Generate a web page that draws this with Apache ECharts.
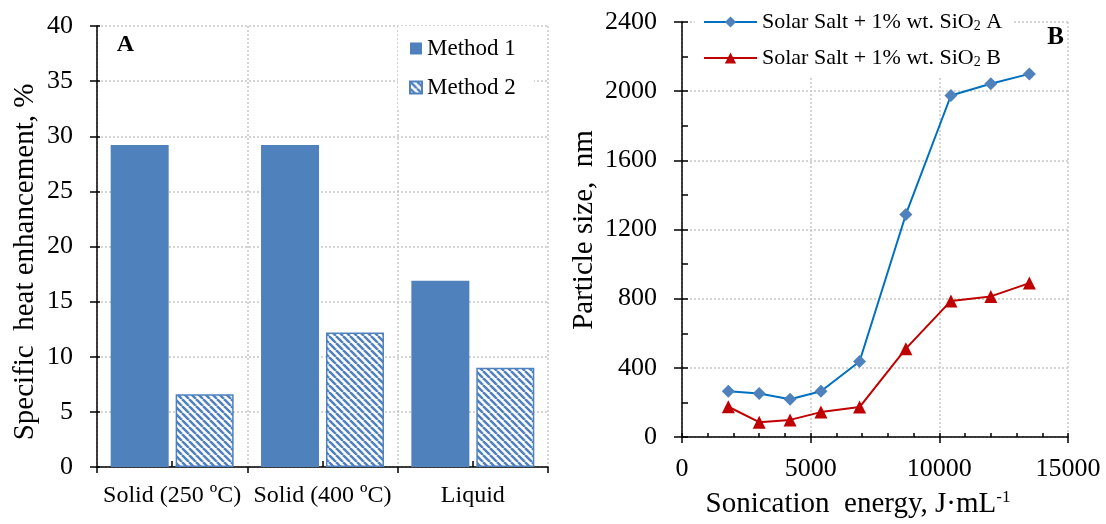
<!DOCTYPE html>
<html>
<head>
<meta charset="utf-8">
<script src="https://cdn.jsdelivr.net/npm/echarts@6/dist/echarts.min.js"></script>
<style>
  html, body { margin: 0; padding: 0; background: #fff; }
  #chart { width: 1106px; height: 524px; }
</style>
</head>
<body>
<div id="chart"></div>
<script>
// panel A
var categories = ['Solid (250 ºC)', 'Solid (400 ºC)', 'Liquid']
var method1 = [29.2, 29.2, 16.9]
var method2 = [6.6, 12.2, 9.0]
// panel B
var energy = [1800, 3000, 4200, 5400, 6900, 8700, 10450, 12000, 13500]
var sizeA = [265, 251, 218, 265, 437, 1287, 1975, 2043, 2100]
var sizeB = [175, 86, 99, 144, 173, 511, 787, 813, 890]
var nameA = 'Solar Salt + 1% wt. SiO2 A'
var nameB = 'Solar Salt + 1% wt. SiO2 B'

var FONT = '"Liberation Serif", "Times New Roman", serif'
var BLUE = '#4F81BD'
var gridLine = { show: true, lineStyle: { color: '#c8c8c8', width: 1.5, type: [2, 2] } }
var axLine = { show: true, lineStyle: { color: '#000', width: 1.5 } }
var tickLine = { color: '#000', width: 1.5 }
var plain = function (v) { return String(v) }

// hatch fill for Method 2
function hatch () {
  var s = 7
  var c = document.createElement('canvas')
  c.width = s
  c.height = s
  var g = c.getContext('2d')
  g.fillStyle = '#fff'
  g.fillRect(0, 0, s, s)
  g.strokeStyle = BLUE
  g.lineWidth = 2.5
  ;[-s, 0, s].forEach(function (k) {
    g.beginPath()
    g.moveTo(k, 0)
    g.lineTo(k + s, s)
    g.stroke()
  })
  return c
}

function pairs (xs, ys) {
  return xs.map(function (x, i) { return [x, ys[i]] })
}

var chart = echarts.init(document.getElementById('chart'))
chart.setOption({
  animation: false,
  backgroundColor: '#fff',
  textStyle: { fontFamily: FONT },
  grid: [
    { left: 97, top: 26, width: 451, height: 441, outerBoundsMode: 'none' },
    { left: 682, top: 22, width: 386, height: 415, outerBoundsMode: 'none' }
  ],
  legend: [
    {
      data: ['Method 1', 'Method 2'],
      orient: 'vertical',
      left: 398,
      top: 26,
      padding: [11, 18, 10, 11],
      backgroundColor: '#fff',
      icon: 'rect',
      itemWidth: 12,
      itemHeight: 12,
      itemGap: 16,
      textStyle: { fontFamily: FONT, fontSize: 23, lineHeight: 23, color: '#000' }
    },
    {
      data: [nameA, nameB],
      orient: 'vertical',
      left: 695,
      top: 5,
      padding: [6, 10, 8, 8],
      backgroundColor: '#fff',
      itemWidth: 53,
      itemHeight: 14,
      itemGap: 14,
      formatter: function (n) {
        return '{t|' + n.slice(0, -3) + '}{s|2}{t| ' + n.slice(-1) + '}'
      },
      textStyle: {
        fontFamily: FONT,
        color: '#000',
        rich: {
          t: { fontFamily: FONT, fontSize: 22, lineHeight: 22, color: '#000', verticalAlign: 'bottom' },
          s: { fontFamily: FONT, fontSize: 14, lineHeight: 14, color: '#000', verticalAlign: 'bottom' }
        }
      }
    }
  ],
  xAxis: [
    {
      gridIndex: 0, type: 'category', data: categories, position: 'bottom',
      axisLine: axLine,
      axisTick: { show: true, length: 6, lineStyle: tickLine },
      axisLabel: { interval: 0, margin: 17, fontSize: 24, color: '#000', fontFamily: FONT },
      splitLine: gridLine
    },
    {
      gridIndex: 0, type: 'category', data: categories, position: 'bottom',
      axisLine: { show: false },
      axisTick: { show: true, alignWithLabel: true, inside: true, length: 6, lineStyle: tickLine },
      axisLabel: { show: false },
      splitLine: { show: false }
    },
    {
      gridIndex: 1, type: 'value', min: 0, max: 15000, interval: 5000, position: 'bottom',
      axisLine: axLine,
      axisTick: { show: true, length: 6, lineStyle: tickLine },
      axisLabel: { margin: 19, fontSize: 26, color: '#000', fontFamily: FONT, formatter: plain },
      splitLine: gridLine
    },
    {
      gridIndex: 1, type: 'value', min: 0, max: 15000, interval: 1000, position: 'bottom',
      axisLine: { show: false },
      axisTick: { show: true, inside: true, length: 4, lineStyle: tickLine },
      axisLabel: { show: false },
      splitLine: { show: false }
    }
  ],
  yAxis: [
    {
      gridIndex: 0, type: 'value', min: 0, max: 40, interval: 5, position: 'left',
      axisLine: axLine,
      axisTick: { show: true, length: 7, lineStyle: tickLine },
      axisLabel: { margin: 24, fontSize: 26, color: '#000', fontFamily: FONT, formatter: plain },
      splitLine: gridLine
    },
    {
      gridIndex: 0, type: 'value', min: 0, max: 40, interval: 5, position: 'left',
      axisLine: { show: false },
      axisTick: { show: true, inside: true, length: 3, lineStyle: tickLine },
      axisLabel: { show: false },
      splitLine: { show: false }
    },
    {
      gridIndex: 1, type: 'value', min: 0, max: 2400, interval: 400, position: 'left',
      axisLine: axLine,
      axisTick: { show: true, length: 8, lineStyle: tickLine },
      axisLabel: { margin: 25, fontSize: 26, color: '#000', fontFamily: FONT, formatter: plain },
      splitLine: gridLine
    },
    {
      gridIndex: 1, type: 'value', min: 0, max: 2400, interval: 200, position: 'left',
      axisLine: { show: false },
      axisTick: { show: true, inside: true, length: 6, lineStyle: tickLine },
      axisLabel: { show: false },
      splitLine: { show: false }
    }
  ],
  series: [
    {
      name: 'Method 1', type: 'bar', xAxisIndex: 0, yAxisIndex: 0,
      data: method1, barWidth: 58, barGap: '12%',
      itemStyle: { color: BLUE }
    },
    {
      name: 'Method 2', type: 'bar', xAxisIndex: 0, yAxisIndex: 0,
      data: method2, barWidth: 58,
      itemStyle: { color: { image: hatch(), repeat: 'repeat' }, borderColor: BLUE, borderWidth: 1.5 }
    },
    {
      name: nameA, type: 'line', xAxisIndex: 2, yAxisIndex: 2,
      data: pairs(energy, sizeA),
      symbol: 'diamond', symbolSize: 13,
      lineStyle: { color: '#0070C0', width: 2 },
      itemStyle: { color: BLUE }
    },
    {
      name: nameB, type: 'line', xAxisIndex: 2, yAxisIndex: 2,
      data: pairs(energy, sizeB),
      symbol: 'triangle', symbolSize: 13,
      lineStyle: { color: '#C00000', width: 2 },
      itemStyle: { color: '#C00000' }
    }
  ],
  graphic: [
    { type: 'text', x: 125.5, y: 45, style: { text: 'A', fontFamily: FONT, fontSize: 24, fontWeight: 'bold', fill: '#000', align: 'center', verticalAlign: 'middle' } },
    { type: 'text', x: 1055.5, y: 38, style: { text: 'B', fontFamily: FONT, fontSize: 25, fontWeight: 'bold', fill: '#000', align: 'center', verticalAlign: 'middle' } },
    { type: 'text', x: 25, y: 262, rotation: Math.PI / 2, style: { text: 'Specific  heat enhancement, %', fontFamily: FONT, fontSize: 29, fill: '#000', align: 'center', verticalAlign: 'middle' } },
    { type: 'text', x: 584, y: 230, rotation: Math.PI / 2, style: { text: 'Particle size,  nm', fontFamily: FONT, fontSize: 29, fill: '#000', align: 'center', verticalAlign: 'middle' } },
    {
      type: 'text', x: 858, y: 504,
      style: {
        text: '{a|Sonication  energy, J·mL}{b|-1}',
        align: 'center', verticalAlign: 'middle',
        rich: {
          a: { fontFamily: FONT, fontSize: 29, lineHeight: 30, fill: '#000', color: '#000' },
          b: { fontFamily: FONT, fontSize: 17, lineHeight: 18, fill: '#000', color: '#000', verticalAlign: 'top' }
        }
      }
    }
  ]
})
</script>
</body>
</html>
